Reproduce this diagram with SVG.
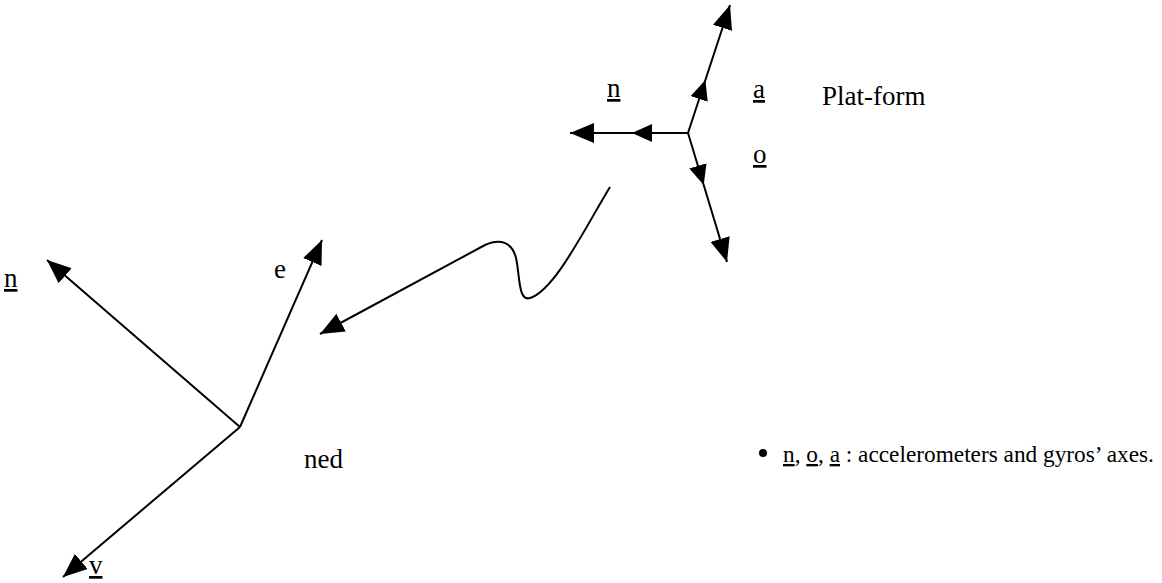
<svg xmlns="http://www.w3.org/2000/svg" width="1162" height="583" viewBox="0 0 1162 583">
  <style>
    .ax { fill: none; stroke: #000; stroke-width: 2; }
    .t { font-family: "Liberation Serif", "Times New Roman", serif; font-size: 27px; fill: #000; }
    .b { font-size: 23.3px; }
    .u { text-decoration: underline; }
  </style>
  <defs>
    <marker id="ah" viewBox="0 0 24 20" refX="24" refY="10" markerWidth="24" markerHeight="20" markerUnits="userSpaceOnUse" orient="auto">
      <path d="M0,0 L24,10 L0,20 Z" fill="#000"/>
    </marker>
    <marker id="am" viewBox="0 0 20 18" refX="20" refY="9" markerWidth="20" markerHeight="18" markerUnits="userSpaceOnUse" orient="auto">
      <path d="M0,0 L20,9 L0,18 Z" fill="#000"/>
    </marker>
  </defs>
  <rect width="1162" height="583" fill="#fff"/>
  <g id="connectors">
    <path class="ax" d="M688,133 L632,133 L570,133" marker-mid="url(#am)" marker-end="url(#ah)"/>
    <path class="ax" d="M688,133 L705.4,80 L730,5" marker-mid="url(#am)" marker-end="url(#ah)"/>
    <path class="ax" d="M688,133 L703.7,185 L727,262" marker-mid="url(#am)" marker-end="url(#ah)"/>
    <path class="ax" d="M240,427 L47,260" marker-end="url(#ah)"/>
    <path class="ax" d="M240,427 L322,240" marker-end="url(#ah)"/>
    <path class="ax" d="M240,427 L63,577" marker-end="url(#ah)"/>
    <path class="ax" d="M610,187 C585,228 555,290 530,298 C518,302 520,275 516,258 C512,242 500,238 485,245 L320,334" marker-end="url(#ah)"/>
  </g>
  <g id="platform">
    <text class="t u" x="607" y="97">n</text>
    <text class="t u" x="753" y="98">a</text>
    <text class="t u" x="753" y="163">o</text>
    <text class="t" x="822" y="105">Plat-form</text>
  </g>
  <g id="ned">
    <text class="t u" x="4" y="287">n</text>
    <text class="t" x="274" y="278">e</text>
    <text class="t u" x="89" y="574">v</text>
    <text class="t" x="304" y="468">ned</text>
  </g>
  <g id="note">
    <circle cx="763" cy="453" r="4" fill="#000"/>
    <text class="t b" x="783" y="462"><tspan class="u">n</tspan>, <tspan class="u">o</tspan>, <tspan class="u">a</tspan> : accelerometers and gyros’ axes.</text>
  </g>
</svg>
